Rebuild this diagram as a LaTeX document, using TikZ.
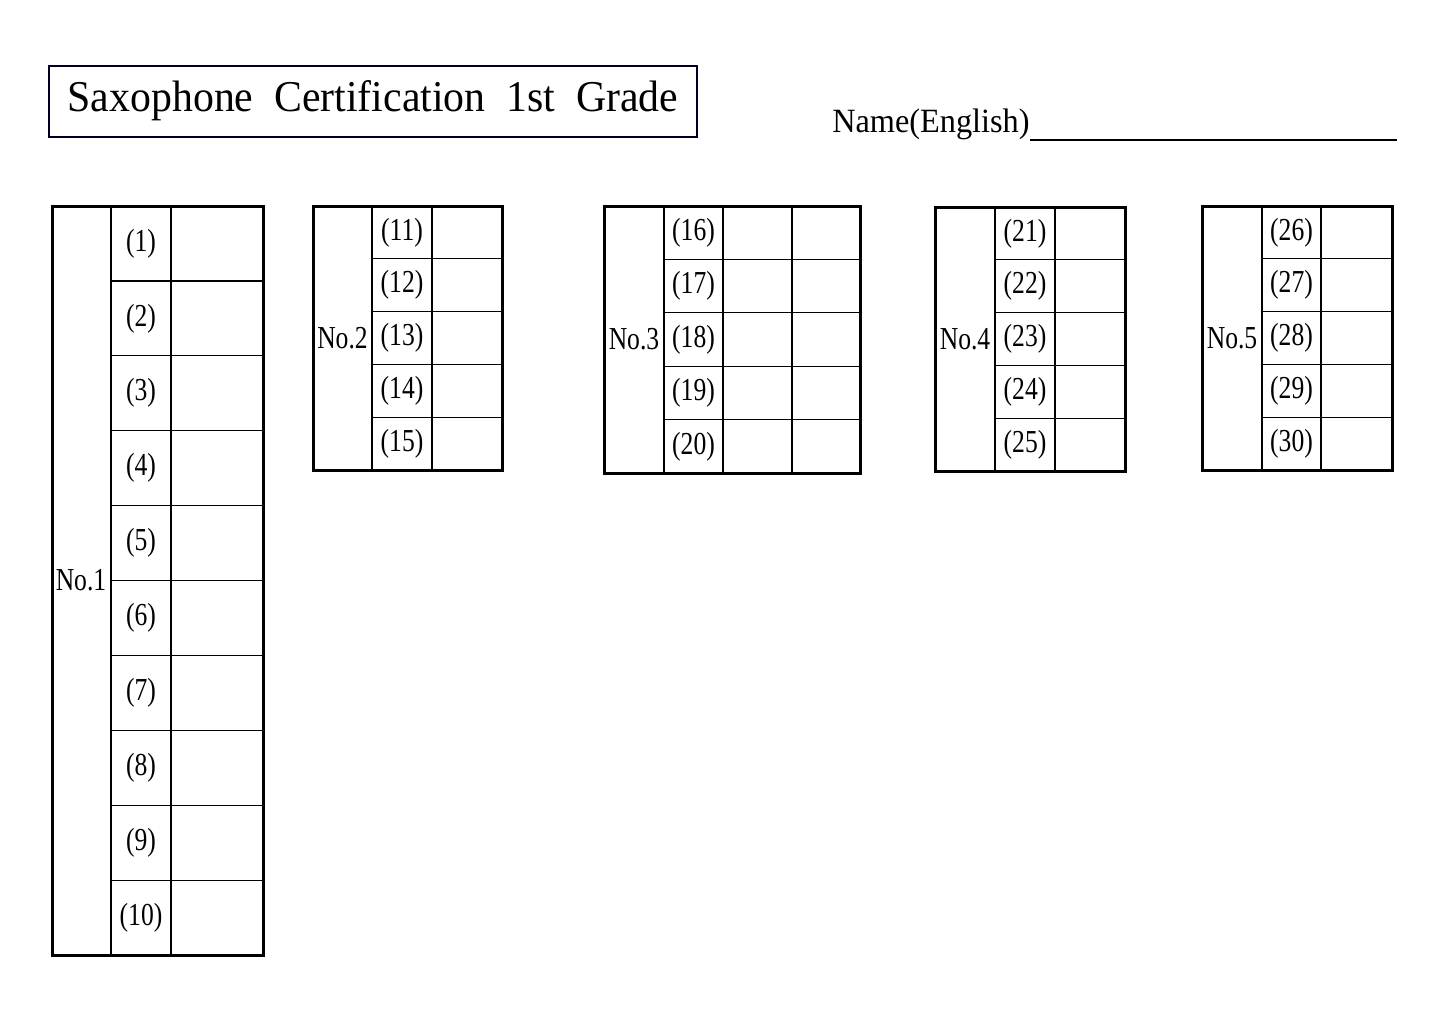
\documentclass[tikz,border=0pt]{standalone}
\usepackage{fontspec}
\setmainfont{Liberation Serif}
\usepackage{tikz}
\usetikzlibrary{calc}

\tikzset{
  grid line/.style={black, line width=0.6pt},
  frame line/.style={black, line width=1.5pt},
  cell label/.style={inner sep=0pt, xscale=0.8, font=\fontsize{16}{16}\selectfont},
}

\begin{document}
\begin{tikzpicture}[x=0.5pt, y=-0.5pt]
    \useasboundingbox (0,0) rectangle (1445,1022);

    % title and name
    \draw[line width=1.2pt, black!85!blue] (49,66) rectangle (697,137);
    \node[inner sep=0pt, xscale=0.95, font=\fontsize{22}{22}\selectfont] (title) at (373,101) {Saxophone\ \ Certification\ \ 1st\ \ Grade};
    \node[inner sep=0pt, anchor=east, xscale=0.95, font=\fontsize{17}{17}\selectfont] (name) at (1030,124) {Name(English)};
    \coordinate (lineend) at (1397,140);
    \draw[line width=0.8pt] (1030,140) -- (lineend);

    % No.1
    \draw[frame line] (52,206) rectangle (263,955);
    \draw[grid line] (111,206) -- (111,955) (171,206) -- (171,955);
    \foreach \i in {1,...,9}
      \draw[grid line] (111,{206+\i*74.9}) -- (263,{206+\i*74.9});
    \foreach \i in {1,...,10}
      \node[cell label] (n\i) at (141,{206+(\i-0.5)*74.9}) {(\i)};
    \node[cell label] (grp1) at (81,580) {No.1};

    % No.2 to No.5
    \foreach \g/\xa/\xb/\xc/\xd/\ya/\yb/\first in {
        2/313/372/432/502/206/470/11,
        3/604/664/723/860/206/473/16,
        4/935/995/1055/1125/207/471/21,
        5/1202/1262/1321/1392/206/470/26} {
      \draw[frame line] (\xa,\ya) rectangle (\xd,\yb);
      \draw[grid line] (\xb,\ya) -- (\xb,\yb) (\xc,\ya) -- (\xc,\yb);
      \foreach \i in {1,...,4}
        \draw[grid line] (\xb,{\ya+\i*(\yb-\ya)/5}) -- (\xd,{\ya+\i*(\yb-\ya)/5});
      \foreach \i in {0,...,4} {
        \pgfmathtruncatemacro{\num}{\first+\i}
        \node[cell label] (n\num) at ({(\xb+\xc)/2},{\ya+(\i+0.5)*(\yb-\ya)/5}) {(\num)};
      }
      \node[cell label] (grp\g) at ({(\xa+\xb)/2},{(\ya+\yb)/2}) {No.\g};
    }
    % extra column of No.3
    \draw[grid line] (792,206) -- (792,473);
\end{tikzpicture}
\end{document}
